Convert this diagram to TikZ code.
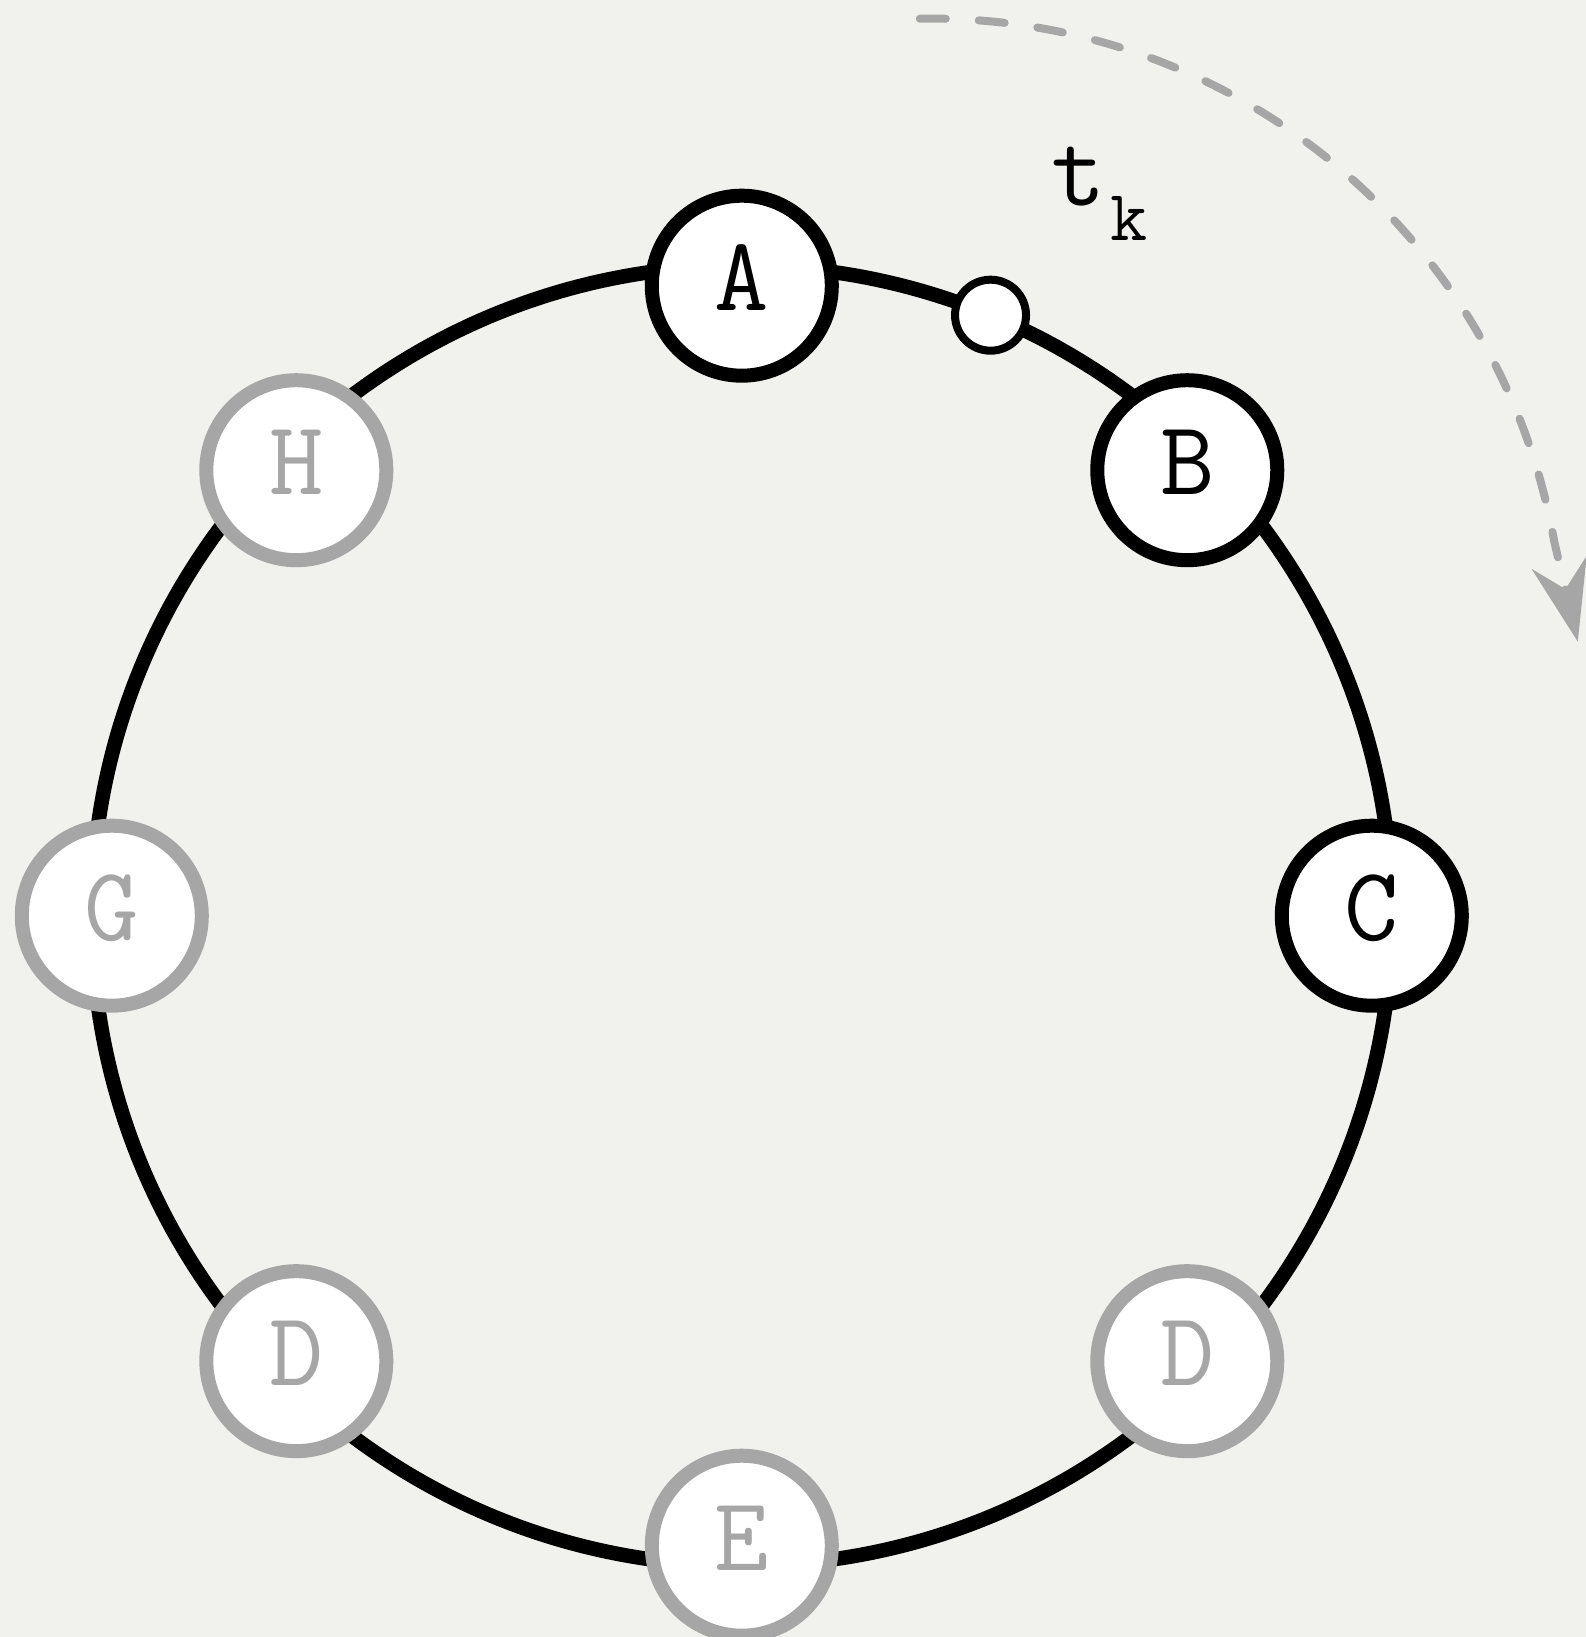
\documentclass[tikz,border=0pt]{standalone}
\usepackage{fontspec}
\usetikzlibrary{arrows.meta}
\definecolor{paper}{HTML}{F1F2ED}
\definecolor{muted}{HTML}{A6A6A6}
\begin{document}
\begin{tikzpicture}[>={Stealth[length=0.81cm,width=0.56cm,inset=0.27cm]}, font=\fontsize{30}{36}\selectfont\ttfamily, line join=round,
	peer/.style={circle, draw=black, fill=white, line width=0.14cm, minimum size=1.8cm, inner sep=0pt, text height=0.65cm, text depth=0.16cm},
	idle/.style={peer, draw=muted, text=muted},
	token/.style={circle, draw=black, fill=white, line width=0.08cm, minimum size=0.71cm, inner sep=0pt}]
	\def\ringR{6.5} \def\peerR{6.3}
	\useasboundingbox[fill=paper] (-7.418,-7.213) rectangle (8.442,9.157);
	\draw[line width=0.145cm] (0,0) circle (\ringR);
	% nodes on the ring
	\node[peer] (a) at (90:\peerR) {A};
	\node[peer] (b) at (45:\peerR) {B};
	\node[peer] (c) at (0:\peerR) {C};
	\node[idle] (d1) at (-45:\peerR) {D};
	\node[idle] (e) at (-90:\peerR) {E};
	\node[idle] (d2) at (-135:\peerR) {D};
	\node[idle] (g) at (180:\peerR) {G};
	\node[idle] (h) at (135:\peerR) {H};
	\node[token] (tok) at (67.5:\ringR) {};
	\node[anchor=base west, inner sep=0pt] (tk) at (3.09,7.10) {t\kern0.05cm\raisebox{-0.35cm}{\fontsize{20.5}{24}\selectfont k}};
	% direction of travel
	\coordinate (arcstart) at (1.78,8.97);
	\coordinate (tip) at (8.36,2.74);
	\draw[->, muted, line width=0.08cm, line cap=round, dash pattern=on 0.26cm off 0.33cm] (arcstart) arc[start angle=91, end angle=10, radius=6.33] -- (tip);
\end{tikzpicture}
\end{document}
